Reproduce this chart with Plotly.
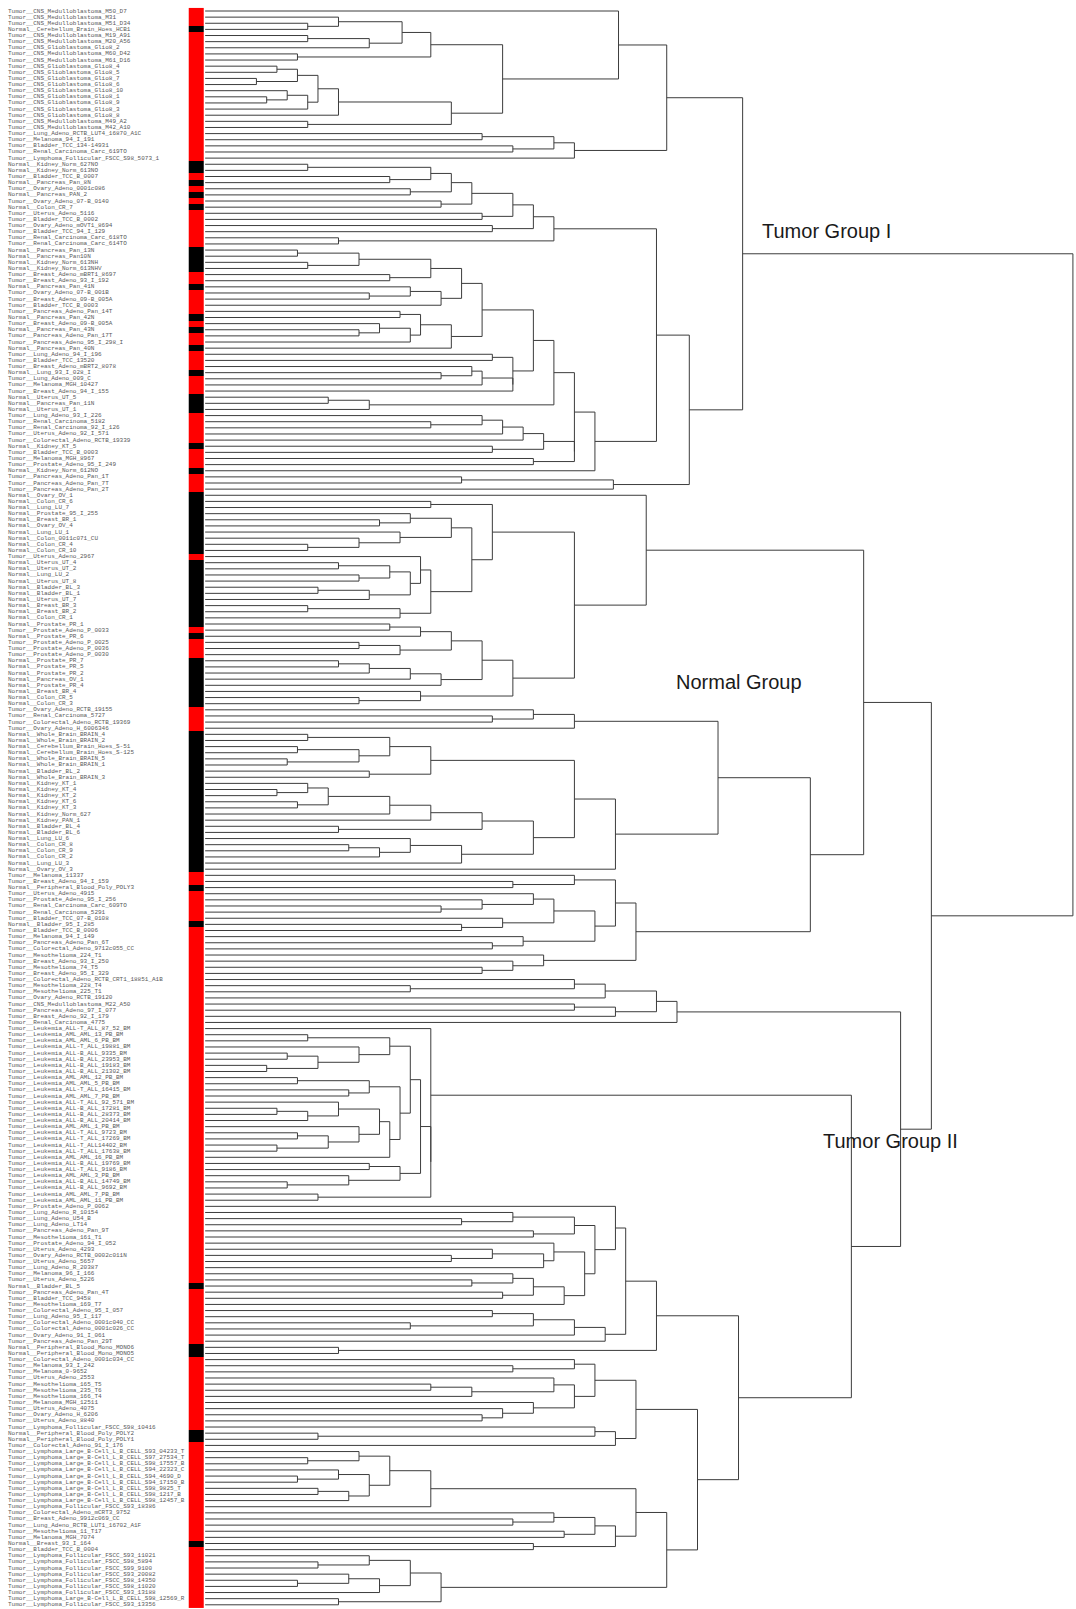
import plotly.graph_objects as go

# ---------------- data ----------------
sample_labels = [
    "Tumor__CNS_Medulloblastoma_M50_D7", "Tumor__CNS_Medulloblastoma_M31", "Tumor__CNS_Medulloblastoma_M51_D34",
    "Normal__Cerebellum_Brain_Hoes_HCB1", "Tumor__CNS_Medulloblastoma_M19_A91", "Tumor__CNS_Medulloblastoma_M20_A56",
    "Tumor__CNS_Glioblastoma_Glio8_2", "Tumor__CNS_Medulloblastoma_M60_D42", "Tumor__CNS_Medulloblastoma_M61_D16",
    "Tumor__CNS_Glioblastoma_Glio8_4", "Tumor__CNS_Glioblastoma_Glio8_5", "Tumor__CNS_Glioblastoma_Glio8_7",
    "Tumor__CNS_Glioblastoma_Glio8_6", "Tumor__CNS_Glioblastoma_Glio8_10", "Tumor__CNS_Glioblastoma_Glio8_1",
    "Tumor__CNS_Glioblastoma_Glio8_9", "Tumor__CNS_Glioblastoma_Glio8_3", "Tumor__CNS_Glioblastoma_Glio8_8",
    "Tumor__CNS_Medulloblastoma_M49_A2", "Tumor__CNS_Medulloblastoma_M42_A10",
    "Tumor__Lung_Adeno_RCTB_LUT4_16870_A1C", "Tumor__Melanoma_94_I_191", "Tumor__Bladder_TCC_134-14931",
    "Tumor__Renal_Carcinoma_Carc_619TO", "Tumor__Lymphoma_Follicular_FSCC_S98_5073_1",
    "Normal__Kidney_Norm_627NO", "Normal__Kidney_Norm_613NO", "Tumor__Bladder_TCC_B_0007",
    "Normal__Pancreas_Pan_8N", "Tumor__Ovary_Adeno_0001c086", "Normal__Pancreas_PAN_2",
    "Tumor__Ovary_Adeno_07-B_0140", "Normal__Colon_CR_7", "Tumor__Uterus_Adeno_5116",
    "Tumor__Bladder_TCC_B_0002", "Tumor__Ovary_Adeno_mOVT1_8694", "Tumor__Bladder_TCC_94_I_129",
    "Tumor__Renal_Carcinoma_Carc_618TO", "Tumor__Renal_Carcinoma_Carc_614TO", "Normal__Pancreas_Pan_13N",
    "Normal__Pancreas_Pan10N", "Normal__Kidney_Norm_613NH", "Normal__Kidney_Norm_613NHV",
    "Tumor__Breast_Adeno_mBRT1_8697", "Tumor__Breast_Adeno_93_I_192", "Normal__Pancreas_Pan_41N",
    "Tumor__Ovary_Adeno_07-B_001B", "Tumor__Breast_Adeno_09-B_005A", "Tumor__Bladder_TCC_B_0003",
    "Tumor__Pancreas_Adeno_Pan_14T", "Normal__Pancreas_Pan_42N", "Tumor__Breast_Adeno_09-B_005A",
    "Normal__Pancreas_Pan_43N", "Tumor__Pancreas_Adeno_Pan_17T", "Tumor__Pancreas_Adeno_95_I_298_I",
    "Normal__Pancreas_Pan_40N", "Tumor__Lung_Adeno_94_I_196", "Tumor__Bladder_TCC_13520",
    "Tumor__Breast_Adeno_mBRT2_8078", "Normal__Lung_93_I_028_I", "Tumor__Lung_Adeno_009_C",
    "Tumor__Melanoma_MGH_10427", "Tumor__Breast_Adeno_94_I_155", "Normal__Uterus_UT_5",
    "Normal__Pancreas_Pan_11N", "Normal__Uterus_UT_1", "Tumor__Lung_Adeno_93_I_226",
    "Tumor__Renal_Carcinoma_5182", "Tumor__Renal_Carcinoma_92_I_126", "Tumor__Uterus_Adeno_92_I_571",
    "Tumor__Colorectal_Adeno_RCTB_19339", "Normal__Kidney_KT_5", "Tumor__Bladder_TCC_B_0003",
    "Tumor__Melanoma_MGH_8967", "Tumor__Prostate_Adeno_95_I_249", "Normal__Kidney_Norm_612NO",
    "Tumor__Pancreas_Adeno_Pan_1T", "Tumor__Pancreas_Adeno_Pan_7T", "Tumor__Pancreas_Adeno_Pan_2T",
    "Normal__Ovary_OV_1", "Normal__Colon_CR_6", "Normal__Lung_LU_7", "Normal__Prostate_95_I_255",
    "Normal__Breast_BR_1", "Normal__Ovary_OV_4", "Normal__Lung_LU_1", "Normal__Colon_0011c071_CU",
    "Normal__Colon_CR_4", "Normal__Colon_CR_10", "Tumor__Uterus_Adeno_2967", "Normal__Uterus_UT_4",
    "Normal__Uterus_UT_2", "Normal__Lung_LU_2", "Normal__Uterus_UT_8", "Normal__Bladder_BL_3",
    "Normal__Bladder_BL_1", "Normal__Uterus_UT_7", "Normal__Breast_BR_3", "Normal__Breast_BR_2",
    "Normal__Colon_CR_1", "Normal__Prostate_PR_1", "Tumor__Prostate_Adeno_P_0033", "Normal__Prostate_PR_6",
    "Tumor__Prostate_Adeno_P_0025", "Tumor__Prostate_Adeno_P_0036", "Tumor__Prostate_Adeno_P_0030",
    "Normal__Prostate_PR_7", "Normal__Prostate_PR_5", "Normal__Prostate_PR_2", "Normal__Pancreas_OV_1",
    "Normal__Prostate_PR_4", "Normal__Breast_BR_4", "Normal__Colon_CR_5", "Normal__Colon_CR_3",
    "Tumor__Ovary_Adeno_RCTB_19155", "Tumor__Renal_Carcinoma_5727", "Tumor__Colorectal_Adeno_RCTB_19369",
    "Tumor__Ovary_Adeno_H_6006346", "Normal__Whole_Brain_BRAIN_4", "Normal__Whole_Brain_BRAIN_2",
    "Normal__Cerebellum_Brain_Hoes_S-51", "Normal__Cerebellum_Brain_Hoes_S-125", "Normal__Whole_Brain_BRAIN_5",
    "Normal__Whole_Brain_BRAIN_1", "Normal__Bladder_BL_2", "Normal__Whole_Brain_BRAIN_3",
    "Normal__Kidney_KT_1", "Normal__Kidney_KT_4", "Normal__Kidney_KT_2", "Normal__Kidney_KT_6",
    "Normal__Kidney_KT_3", "Normal__Kidney_Norm_627", "Normal__Kidney_PAN_1", "Normal__Bladder_BL_4",
    "Normal__Bladder_BL_6", "Normal__Lung_LU_6", "Normal__Colon_CR_8", "Normal__Colon_CR_9",
    "Normal__Colon_CR_2", "Normal__Lung_LU_3", "Normal__Ovary_OV_3",
    "Tumor__Melanoma_11337", "Tumor__Breast_Adeno_94_I_159", "Normal__Peripheral_Blood_Poly_POLY3",
    "Tumor__Uterus_Adeno_4915", "Tumor__Prostate_Adeno_95_I_256", "Tumor__Renal_Carcinoma_Carc_609TO",
    "Tumor__Renal_Carcinoma_5291", "Tumor__Bladder_TCC_07-B_0108", "Normal__Bladder_95_I_285",
    "Tumor__Bladder_TCC_B_0006", "Tumor__Melanoma_94_I_149", "Tumor__Pancreas_Adeno_Pan_6T",
    "Tumor__Colorectal_Adeno_9712c055_CC", "Tumor__Mesothelioma_224_T1", "Tumor__Breast_Adeno_93_I_250",
    "Tumor__Mesothelioma_74_T5", "Tumor__Breast_Adeno_95_I_329", "Tumor__Colorectal_Adeno_RCTB_CRT1_18851_A1B",
    "Tumor__Mesothelioma_228_T4", "Tumor__Mesothelioma_225_T1", "Tumor__Ovary_Adeno_RCTB_19120",
    "Tumor__CNS_Medulloblastoma_M22_A50", "Tumor__Pancreas_Adeno_97_I_077", "Tumor__Breast_Adeno_92_I_179",
    "Tumor__Renal_Carcinoma_4775",
    "Tumor__Leukemia_ALL-T_ALL_87_52_BM", "Tumor__Leukemia_AML_AML_13_PB_BM", "Tumor__Leukemia_AML_AML_6_PB_BM",
    "Tumor__Leukemia_ALL-T_ALL_19881_BM", "Tumor__Leukemia_ALL-B_ALL_9335_BM", "Tumor__Leukemia_ALL-B_ALL_23953_BM",
    "Tumor__Leukemia_ALL-B_ALL_19183_BM", "Tumor__Leukemia_ALL-B_ALL_21302_BM", "Tumor__Leukemia_AML_AML_12_PB_BM",
    "Tumor__Leukemia_AML_AML_5_PB_BM", "Tumor__Leukemia_ALL-T_ALL_16415_BM", "Tumor__Leukemia_AML_AML_7_PB_BM",
    "Tumor__Leukemia_ALL-T_ALL_92_571_BM", "Tumor__Leukemia_ALL-B_ALL_17281_BM", "Tumor__Leukemia_ALL-B_ALL_28373_BM",
    "Tumor__Leukemia_ALL-B_ALL_20414_BM", "Tumor__Leukemia_AML_AML_1_PB_BM", "Tumor__Leukemia_ALL-T_ALL_9723_BM",
    "Tumor__Leukemia_ALL-T_ALL_17269_BM", "Tumor__Leukemia_ALL-T_ALL14402_BM", "Tumor__Leukemia_ALL-T_ALL_17638_BM",
    "Tumor__Leukemia_AML_AML_16_PB_BM", "Tumor__Leukemia_ALL-B_ALL_19769_BM", "Tumor__Leukemia_ALL-T_ALL_9186_BM",
    "Tumor__Leukemia_AML_AML_3_PB_BM", "Tumor__Leukemia_ALL-B_ALL_14749_BM", "Tumor__Leukemia_ALL-B_ALL_9692_BM",
    "Tumor__Leukemia_AML_AML_7_PB_BM", "Tumor__Leukemia_AML_AML_11_PB_BM",
    "Tumor__Prostate_Adeno_P_0062", "Tumor__Lung_Adeno_R_10154", "Tumor__Lung_Adeno_U54_B",
    "Tumor__Lung_Adeno_LT14", "Tumor__Pancreas_Adeno_Pan_9T", "Tumor__Mesothelioma_161_T1",
    "Tumor__Prostate_Adeno_94_I_052", "Tumor__Uterus_Adeno_4293", "Tumor__Ovary_Adeno_RCTB_0002c011N",
    "Tumor__Uterus_Adeno_5657", "Tumor__Lung_Adeno_R_20387", "Tumor__Melanoma_96_I_166",
    "Tumor__Uterus_Adeno_5226", "Normal__Bladder_BL_5", "Tumor__Pancreas_Adeno_Pan_4T",
    "Tumor__Bladder_TCC_9458", "Tumor__Mesothelioma_169_T7", "Tumor__Colorectal_Adeno_95_I_057",
    "Tumor__Lung_Adeno_95_I_117", "Tumor__Colorectal_Adeno_0001c040_CC", "Tumor__Colorectal_Adeno_0001c026_CC",
    "Tumor__Ovary_Adeno_91_I_061", "Tumor__Pancreas_Adeno_Pan_29T", "Normal__Peripheral_Blood_Mono_MONO6",
    "Normal__Peripheral_Blood_Mono_MONO5", "Tumor__Colorectal_Adeno_0001c034_CC", "Tumor__Melanoma_93_I_242",
    "Tumor__Melanoma_0-9652", "Tumor__Uterus_Adeno_2553", "Tumor__Mesothelioma_165_T5",
    "Tumor__Mesothelioma_235_T6", "Tumor__Mesothelioma_166_T4", "Tumor__Melanoma_MGH_12511",
    "Tumor__Uterus_Adeno_4075", "Tumor__Ovary_Adeno_H_6206", "Tumor__Uterus_Adeno_8840",
    "Tumor__Lymphoma_Follicular_FSCC_S98_10416", "Normal__Peripheral_Blood_Poly_POLY2",
    "Normal__Peripheral_Blood_Poly_POLY1", "Tumor__Colorectal_Adeno_91_I_176",
    "Tumor__Lymphoma_Large_B-Cell_L_B_CELL_S93_04233_T", "Tumor__Lymphoma_Large_B-Cell_L_B_CELL_S97_27534_T",
    "Tumor__Lymphoma_Large_B-Cell_L_B_CELL_S98_17557_B", "Tumor__Lymphoma_Large_B-Cell_L_B_CELL_S94_22323_C",
    "Tumor__Lymphoma_Large_B-Cell_L_B_CELL_S94_4690_D", "Tumor__Lymphoma_Large_B-Cell_L_B_CELL_S94_17150_B",
    "Tumor__Lymphoma_Large_B-Cell_L_B_CELL_S98_9825_T", "Tumor__Lymphoma_Large_B-Cell_L_B_CELL_S98_1217_B",
    "Tumor__Lymphoma_Large_B-Cell_L_B_CELL_S98_12457_B", "Tumor__Lymphoma_Follicular_FSCC_S93_18386",
    "Tumor__Colorectal_Adeno_mCRT3_9752", "Tumor__Breast_Adeno_9912c069_CC",
    "Tumor__Lung_Adeno_RCTB_LUT1_16702_A1F", "Tumor__Mesothelioma_11_T17", "Tumor__Melanoma_MGH_7074",
    "Normal__Breast_93_I_164", "Tumor__Bladder_TCC_B_0004",
    "Tumor__Lymphoma_Follicular_FSCC_S93_11021", "Tumor__Lymphoma_Follicular_FSCC_S98_5894",
    "Tumor__Lymphoma_Follicular_FSCC_S99_9100", "Tumor__Lymphoma_Follicular_FSCC_S93_20082",
    "Tumor__Lymphoma_Follicular_FSCC_S98_14350", "Tumor__Lymphoma_Follicular_FSCC_S98_11020",
    "Tumor__Lymphoma_Follicular_FSCC_S93_13188", "Tumor__Lymphoma_Large_B-Cell_L_B_CELL_S98_12569_R",
    "Tumor__Lymphoma_Follicular_FSCC_S93_13356",
]

# merge height between consecutive leaves (cophenetic distance of neighbours)
merge_heights = (
    [403, 130, 100, 192, 100, 160, 220, 90, 290, 70, 90, 50, 110, 80, 60, 100, 130, 240, 100, 450]
    + [270, 340, 300, 360, 524]
    + [100, 220, 180, 240, 200, 260, 230, 300, 270, 320, 280, 340, 130, 440]
    + [90, 150, 100, 220, 180, 250, 200, 160, 230, 270, 190, 210, 170, 150, 200, 240, 320, 280,
       300, 260, 230, 270, 300, 340, 120, 160, 360, 270, 220, 290, 310, 330, 280, 360, 320, 380]
    + [472, 250, 398, 846]
    + [430, 220, 280, 200, 170, 240, 190, 150, 100, 260, 210, 130, 180, 150, 200, 110, 160, 220,
       100, 190, 360, 180, 210, 240, 150, 190, 270, 130, 160, 200, 230, 300, 210, 150]
    + [642]
    + [320, 280, 360, 500, 100, 180, 90, 150, 80, 220, 160, 360, 100, 70, 120, 90, 180, 220, 270,
       130, 320, 200, 140, 170, 250, 400]
    + [590]
    + [360, 300, 400, 320, 270, 230, 340, 290, 250, 380, 310, 280, 420, 330, 300, 270, 708, 360,
       200, 390, 440, 360, 400, 460]
    + [678]
    + [220, 100, 180, 150, 80, 110, 60, 200, 90, 160, 140, 190, 130, 70, 100, 170, 150, 90, 120,
       70, 180, 210, 160, 190, 140, 80, 220, 110]
    + [630]
    + [400, 300, 250, 360, 320, 380, 340, 280, 240, 330, 370, 300, 260, 320, 290, 350, 410, 280,
       320, 200, 360, 390, 440, 130, 520, 360, 300, 380, 340, 220, 260, 360, 320, 290, 270, 420,
       380, 110, 400]
    + [480]
    + [150, 100, 180, 130, 90, 160, 110, 140, 220, 420, 340, 300, 380, 350, 400, 320, 450, 160,
       110, 200, 140, 90, 170, 230, 130]
)

group_names = ["Tumor Group I", "Normal Group", "Tumor Group II"]
group_label_x = [541, 457, 600]        # distance units
group_label_y = [36.9, 110.5, 185.3]   # leaf-index units

class_colors = {"Tumor": "#ff0000", "Normal": "#000000"}

# ---------------- build dendrogram ----------------
N = len(sample_labels)
heights = merge_heights[: N - 1]
xs, ys = [], []


def build(a, b):
    if a == b:
        return a + 1, 0.0
    k = max(range(a, b), key=lambda j: heights[j])
    pl, hl = build(a, k)
    pr, hr = build(k + 1, b)
    h = heights[k]
    xs.extend([hl, h, h, hr, None])
    ys.extend([pl, pl, pr, pr, None])
    return (pl + pr) / 2.0, h


build(0, N - 1)

leaf_idx = list(range(1, N + 1))
is_normal = [1 if s.startswith("Normal") else 0 for s in sample_labels]

fig = go.Figure()

# leaf labels (clipped at colour bar)
fig.add_trace(go.Scatter(
    x=[8] * N, y=leaf_idx, mode="text", text=sample_labels, textposition="middle right",
    textfont=dict(family="Liberation Mono", size=6, color="#5a5a5a"),
    xaxis="x2", yaxis="y", cliponaxis=True, hoverinfo="skip", showlegend=False,
))

# class colour bar
fig.add_trace(go.Heatmap(
    z=[[v] for v in is_normal], x=[-16, -1], y=leaf_idx,
    colorscale=[[0, class_colors["Tumor"]], [1, class_colors["Normal"]]],
    zmin=0, zmax=1, showscale=False, xgap=0, ygap=0, hoverinfo="skip",
))

# tree
fig.add_trace(go.Scatter(
    x=xs, y=ys, mode="lines", line=dict(color="#3c3c3c", width=1),
    hoverinfo="skip", showlegend=False, cliponaxis=False,
))

for name, gx, gy in zip(group_names, group_label_x, group_label_y):
    fig.add_annotation(x=gx, y=gy, xref="x", yref="y", text=name, showarrow=False,
                       xanchor="left", yanchor="middle",
                       font=dict(family="Liberation Sans", size=20, color="#1a1a1a"))

spacing_px = 6.13
top_px = 11
H, W = 1609, 1076
y_top = 1 - top_px / spacing_px
y_bot = 1 + (H - top_px) / spacing_px

fig.update_layout(
    width=W, height=H, margin=dict(l=0, r=0, t=0, b=0),
    paper_bgcolor="white", plot_bgcolor="white", showlegend=False,
    xaxis=dict(range=[-200, 849], domain=[0, 1], visible=False, fixedrange=True),
    xaxis2=dict(range=[0, 187], domain=[0, 187 / W], visible=False, anchor="y", fixedrange=True),
    yaxis=dict(range=[y_bot, y_top], visible=False, fixedrange=True),
)

fig.write_html("out.html", config={"displayModeBar": False},
               post_script="document.body.style.margin='0';")
